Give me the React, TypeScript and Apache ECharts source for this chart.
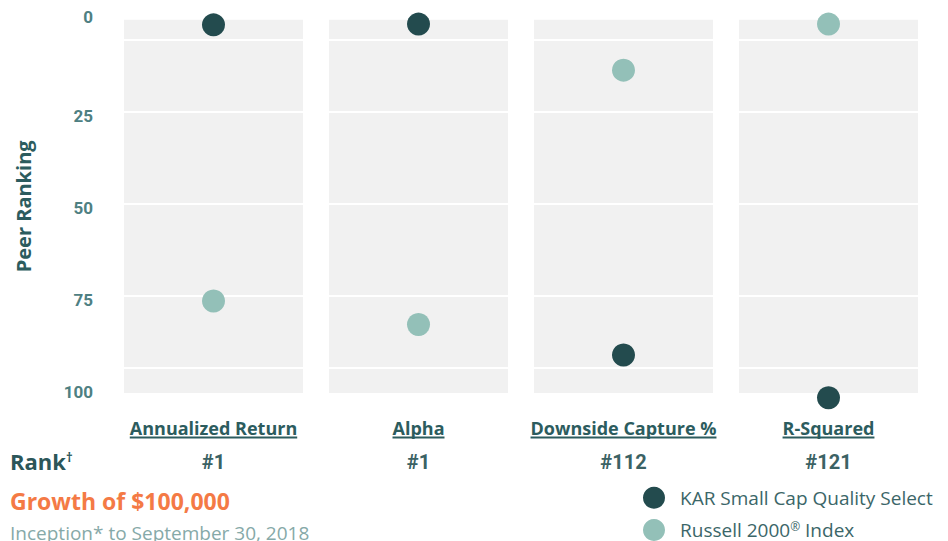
import React, { useEffect, useRef } from "react";
import * as echarts from "echarts";

const categories = ["Annualized Return", "Alpha", "Downside Capture %", "R-Squared"];
const ranks = ["#1", "#1", "#112", "#121"];
const karValues = [1.4, 1.2, 91.1, 102.7];
const russellValues = [76.4, 82.8, 13.7, 1.2];
const gridLineValues = [5.4, 25, 50, 75, 94.6];
const Y_MAX = 101.4;
const KAR = "KAR Small Cap Quality Select";
const RUS = "Russell 2000® Index";

const DARK = "#234b4e";
const LIGHT = "#93c0b8";
const TEAL = "#2c5c5e";
const FONT = "Open Sans";

const legendBase = (name: string, top: number) => ({
  orient: "horizontal",
  left: 638,
  top,
  itemWidth: 32,
  itemHeight: 22,
  data: [{ name, icon: "circle" }],
  formatter: (n: string) => n.replace("®", "{sup|®}"),
  textStyle: {
    fontFamily: FONT,
    fontSize: 19,
    color: "#3b6668",
    padding: [0, 0, 0, 5],
    rich: {
      sup: { fontFamily: FONT, fontSize: 12, color: "#3b6668", verticalAlign: "top", padding: [0, 0, 7, 0] },
    },
  },
});

export default function App() {
  const ref = useRef<HTMLDivElement>(null);
  useEffect(() => {
    if (!ref.current) return;
    const chart = echarts.init(ref.current, null, { renderer: "svg" });
    const option: any = {
      animation: false,
      grid: { left: 111, right: 17, top: 19.7, bottom: 541 - 393, containLabel: false },
      legend: [legendBase(KAR, 481.7), legendBase(RUS, 514)],
      xAxis: {
        type: "category",
        data: categories,
        axisLine: { show: false },
        axisTick: { show: false },
        splitLine: { show: false },
        axisLabel: {
          interval: 0,
          margin: 20,
          formatter: (v: string, i: number) => `{name|${v}}\n{rank|${ranks[i]}}`,
          rich: {
            name: { fontFamily: FONT, fontWeight: "bold", fontSize: 18, color: TEAL, lineHeight: 30 },
            rank: { fontFamily: "Roboto", fontWeight: "bold", fontSize: 20, color: "#3b6264", lineHeight: 38 },
          },
        },
      },
      yAxis: {
        type: "value",
        inverse: true,
        min: 0,
        max: Y_MAX,
        interval: 25,
        axisLine: { show: false },
        axisTick: { show: false },
        splitLine: { show: false },
        name: "Peer Ranking",
        nameLocation: "middle",
        nameGap: 78,
        nameTextStyle: { fontFamily: FONT, fontWeight: "bold", fontSize: 20, color: TEAL },
        axisLabel: {
          margin: 18,
          fontFamily: "Roboto",
          fontWeight: "bold",
          fontSize: 17,
          color: "#4e8082",
          formatter: (v: number) => {
            if (Math.abs(v % 25) > 1e-6) return "";
            return v === 0 ? `{top|${v}}` : `{n|${v}}`;
          },
          rich: {
            top: { fontFamily: "Roboto", fontWeight: "bold", fontSize: 17, color: "#4e8082", padding: [0, 0, 5, 0] },
            n: { fontFamily: "Roboto", fontWeight: "bold", fontSize: 17, color: "#4e8082", padding: [8, 0, 0, 0] },
          },
        },
      },
      series: [
        {
          name: "panel",
          type: "bar",
          data: categories.map(() => Y_MAX),
          barWidth: 179,
          silent: true,
          itemStyle: { color: "#f1f1f1" },
          z: 1,
          markLine: {
            silent: true,
            symbol: ["none", "none"],
            label: { show: false },
            lineStyle: { color: "#ffffff", width: 2, type: "solid" },
            data: gridLineValues.map((v) => ({ yAxis: v })),
          },
        },
        {
          name: KAR,
          type: "scatter",
          data: karValues,
          symbolSize: 23,
          clip: false,
          itemStyle: { color: DARK, opacity: 1 },
          z: 5,
        },
        {
          name: RUS,
          type: "scatter",
          data: russellValues,
          symbolSize: 23,
          clip: false,
          itemStyle: { color: LIGHT, opacity: 1 },
          z: 5,
        },
      ],
    };
    chart.setOption(option);

    // underlines beneath the category names
    const canvas = document.createElement("canvas");
    const ctx = canvas.getContext("2d")!;
    ctx.font = `bold 18px "${FONT}"`;
    const underlines = categories.map((c, i) => {
      const cx = chart.convertToPixel({ gridIndex: 0 } as any, [i, 0]) as any;
      const w = ctx.measureText(c).width;
      return {
        type: "line",
        silent: true,
        shape: { x1: cx[0] - w / 2, y1: 437.5, x2: cx[0] + w / 2, y2: 437.5 },
        style: { stroke: TEAL, lineWidth: 2 },
      };
    });

    chart.setOption({
      graphic: [
        ...underlines,
        {
          type: "text",
          x: 10,
          y: 461,
          style: {
            text: "Rank{sup|†}",
            fontFamily: FONT,
            fontWeight: "bold",
            fontSize: 22,
            fill: "#2c5659",
            verticalAlign: "middle",
            rich: {
              sup: { fontFamily: FONT, fontWeight: "bold", fontSize: 13, fill: "#2c5659", verticalAlign: "top", padding: [0, 0, 9, 0] },
            },
          },
        },
        {
          type: "text",
          x: 10,
          y: 501,
          style: {
            text: "Growth of $100,000",
            fontFamily: FONT,
            fontWeight: "bold",
            fontSize: 23,
            fill: "#f47a45",
            verticalAlign: "middle",
          },
        },
        {
          type: "text",
          x: 10,
          y: 533,
          style: {
            text: "Inception* to September 30, 2018",
            fontFamily: FONT,
            fontSize: 19,
            fill: "#86a9a8",
            verticalAlign: "middle",
          },
        },
      ],
    });

    return () => chart.dispose();
  }, []);
  return (
    <div
      ref={ref}
      style={{ position: "fixed", left: 0, top: 0, width: 948, height: 541, background: "#ffffff" }}
    />
  );
}
